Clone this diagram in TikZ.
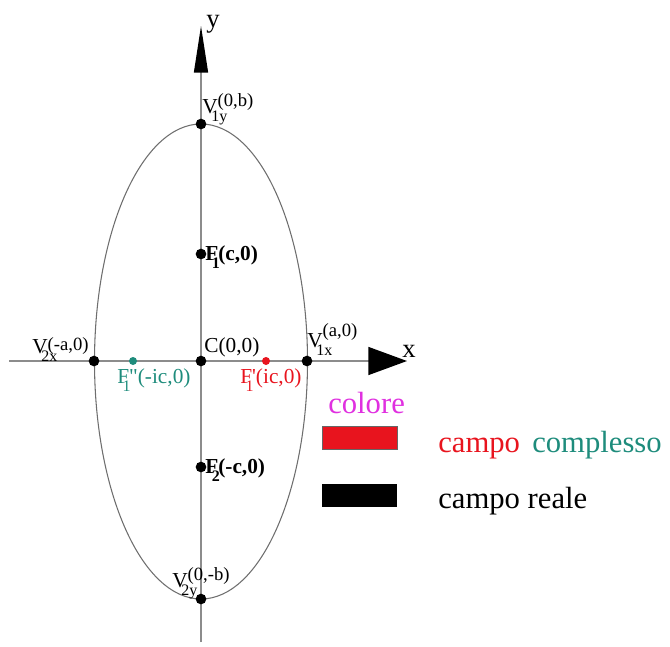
\documentclass[tikz,border=0pt]{standalone}
\usepackage{fontspec}
\setmainfont{Liberation Serif}
\usepackage{xcolor}
\usetikzlibrary{arrows.meta}
\definecolor{ELAxis}{HTML}{8C8C8C}
\definecolor{ELCurve}{HTML}{6E6E6E}
\definecolor{ELRed}{HTML}{E8141E}
\definecolor{ELTeal}{HTML}{1E8C7C}
\definecolor{ELMagenta}{HTML}{E030E0}
\newcommand{\lblfont}{\fontsize{16}{16}\selectfont}
\newcommand{\supfont}{\fontsize{14}{14}\selectfont}
\newcommand{\subfont}{\fontsize{12}{12}\selectfont}
\newcommand{\fsub}[2]{#1\rlap{\kern-0.3em\raisebox{-0.4em}{\subfont #2}}}
\newcommand{\vsubsup}[4]{\fsub{#1}{#2}\raisebox{#4}{\supfont #3}}

\begin{document}
\begin{tikzpicture}[x=0.75pt,y=-0.75pt,
  lbl/.style={anchor=base west,inner sep=0pt,font=\lblfont},
  dot/.style={circle,fill=black,inner sep=0pt,minimum size=8pt},
  cdot/.style={circle,inner sep=0pt,minimum size=6pt},
  axisline/.style={ELAxis,line width=1.1pt}]
\path[use as bounding box] (0,0) rectangle (670,646);
% axes
\coordinate (xl) at (9,361);
\coordinate (xr) at (407,361);
\coordinate (yb) at (201,642);
\coordinate (yt) at (201,26);
\draw[axisline,-{Triangle[length=29pt,width=21pt,color=black]}] (xl) -- (xr);
\draw[axisline,-{Triangle[length=35pt,width=10.5pt,color=black]}] (yb) -- (yt);
\node[lbl,font=\fontsize{20}{20}\selectfont] (xlab) at (402,357) {x};
\node[lbl,font=\fontsize{20}{20}\selectfont] (ylab) at (206,27) {y};
% ellipse
\draw[ELCurve,line width=0.8pt] (201,361.5) ellipse [x radius=106.5,y radius=237.5];
% points
\node[dot] (C) at (201,361) {};
\node[dot] (V1y) at (201,124) {};
\node[dot] (V2y) at (201,599) {};
\node[dot] (V1x) at (307,361) {};
\node[dot] (V2x) at (94,361) {};
\node[dot] (F1) at (201,254) {};
\node[dot] (F2) at (201,467) {};
\node[cdot,fill=ELRed] (F1r) at (266,361) {};
\node[cdot,fill=ELTeal] (F1g) at (133,361) {};
% labels
\node[lbl] (lV1y) at (202,113) {\vsubsup{V}{1y}{(0,b)}{0.3em}};
\node[lbl] (lV2y) at (172,587) {\vsubsup{V}{2y}{(0,-b)}{0.3em}};
\node[lbl] (lV1x) at (307,347) {\vsubsup{V}{1x}{(a,0)}{0.5em}};
\node[lbl] (lV2x) at (32,353) {\vsubsup{V}{2x}{(-a,0)}{0.1em}};
\node[lbl] (lC) at (204,352) {C(0,0)};
\node[lbl] (lF1) at (205,260) {\textbf{\fsub{F}{1}(c,0)}};
\node[lbl] (lF2) at (205,473) {\textbf{\fsub{F}{2}(-c,0)}};
\node[lbl,text=ELTeal] (lF1g) at (117,383) {\fsub{F}{1}\textquotedbl(-ic,0)};
\node[lbl,text=ELRed] (lF1r) at (240,383) {\fsub{F}{1}\textquotesingle(ic,0)};
% legend
\node[lbl,font=\fontsize{23}{23}\selectfont,text=ELMagenta] (colore) at (328,413) {colore};
\draw[fill=ELRed,draw=black!60,line width=0.5pt] (322,426) rectangle (397,449);
\fill[black] (322,484) rectangle (397,507);
\node[lbl,font=\fontsize{23}{23}\selectfont,text=ELRed] (campo) at (438,452) {campo};
\node[lbl,font=\fontsize{23}{23}\selectfont,text=ELTeal] (complesso) at (532,452) {complesso};
\node[lbl,font=\fontsize{23}{23}\selectfont] (reale) at (438,508) {campo reale};
\end{tikzpicture}
\end{document}
